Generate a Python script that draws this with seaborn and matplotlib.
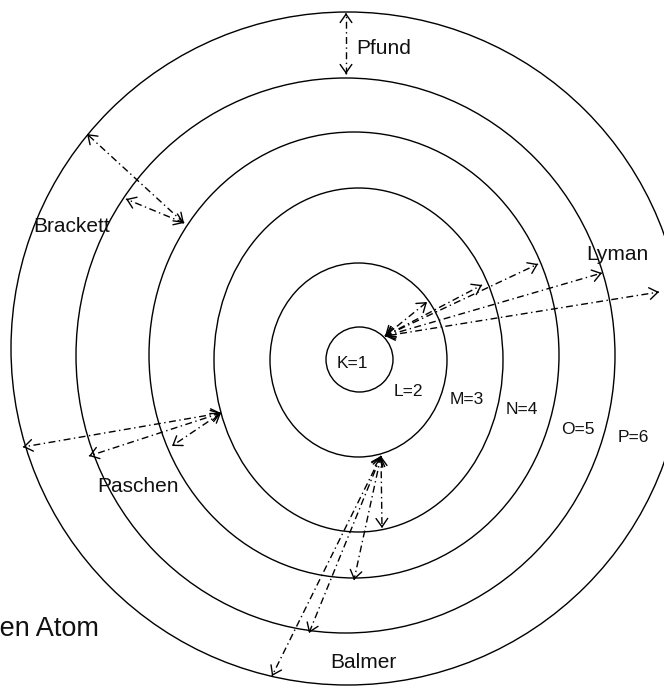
#!/usr/bin/env python3
"""Bohr model of the hydrogen atom: orbits and spectral series."""
import matplotlib
matplotlib.use("Agg")
import matplotlib.pyplot as plt
import numpy as np
import pandas as pd
import seaborn as sns
from matplotlib.patches import Ellipse

sns.set_theme(style="white")
plt.rcParams["font.family"] = ["Liberation Sans", "DejaVu Sans"]

# orbits (pixel geometry of the drawing, y grows downward)
ORBITS = ["K=1", "L=2", "M=3", "N=4", "O=5", "P=6"]
ORBIT_CX = [359.5, 358.5, 358.5, 354, 345.5, 347.5]
ORBIT_CY = [359.5, 360, 360, 355, 355.5, 348.5]
ORBIT_W = [67, 177, 289, 410, 539, 673]
ORBIT_H = [65, 194, 344, 446, 555, 673]
ORBIT_LABEL_X = [352, 408, 467, 522, 578, 633]
ORBIT_LABEL_Y = [363, 391, 400, 409, 429, 437]

# transitions: one row per arrow
TRANS_SERIES = ["Lyman"] * 5 + ["Balmer"] * 4 + ["Paschen"] * 3 + ["Brackett"] * 2 + ["Pfund"]
TRANS_FROM_X = [385] * 5 + [381] * 4 + [221] * 3 + [184] * 2 + [346]
TRANS_FROM_Y = [336] * 5 + [456] * 4 + [413] * 3 + [223] * 2 + [74]
TRANS_TO_X = [427, 482, 538, 602, 659, 382, 354, 309, 272, 172, 89, 23, 126, 87, 346]
TRANS_TO_Y = [302, 285, 264, 273, 292, 528, 580, 633, 676, 446, 456, 447, 199, 134, 13]

SERIES = ["Lyman", "Balmer", "Paschen", "Brackett", "Pfund"]
SERIES_LABEL_X = [617, 363, 138, 72, 384]
SERIES_LABEL_Y = [255, 663, 487, 226, 49]

TITLE = "Hydrogen Atom"


def main():
    fig = plt.figure(figsize=(6.64, 6.87), dpi=100)
    ax = fig.add_axes([0, 0, 1, 1])
    ax.set_xlim(0, 664)
    ax.set_ylim(687, 0)
    ax.axis("off")

    for cx, cy, w, h in zip(ORBIT_CX, ORBIT_CY, ORBIT_W, ORBIT_H):
        ax.add_patch(Ellipse((cx, cy), w, h, fill=False, ec="black", lw=1.0))

    for name, x, y in zip(ORBITS, ORBIT_LABEL_X, ORBIT_LABEL_Y):
        ax.text(x, y, name, ha="center", va="center", fontsize=12.5, color="#111111")

    trans = pd.DataFrame({
        "series": TRANS_SERIES,
        "x0": TRANS_FROM_X,
        "y0": TRANS_FROM_Y,
        "x1": TRANS_TO_X,
        "y1": TRANS_TO_Y,
    })
    trans["id"] = np.arange(len(trans))

    segs = pd.concat([
        trans[["id", "series", "x0", "y0"]].rename(columns={"x0": "x", "y0": "y"}),
        trans[["id", "series", "x1", "y1"]].rename(columns={"x1": "x", "y1": "y"}),
    ]).sort_values("id", kind="stable")

    sns.lineplot(
        data=segs, x="x", y="y", units="id", estimator=None, sort=False,
        color="black", lw=1.0, linestyle=(0, (5, 2.5, 1, 2.5)), legend=False, ax=ax,
    )

    head = dict(arrowstyle="->,head_length=0.6,head_width=0.42", color="black",
                lw=1.0, shrinkA=0, shrinkB=0, mutation_scale=10)
    for row in trans.itertuples():
        d = np.array([row.x1 - row.x0, row.y1 - row.y0], dtype=float)
        u = d / np.hypot(*d)
        for tip, sign in (((row.x1, row.y1), 1), ((row.x0, row.y0), -1)):
            back = (tip[0] - sign * u[0] * 2, tip[1] - sign * u[1] * 2)
            ax.annotate("", xy=tip, xytext=back, arrowprops=head)

    for name, x, y in zip(SERIES, SERIES_LABEL_X, SERIES_LABEL_Y):
        ax.text(x, y, name, ha="center", va="center", fontsize=15, color="#111111")

    # title sits partly outside the crop on the left, as in the source
    ax.text(99, 629, TITLE, ha="right", va="center", fontsize=19.5, color="#111111")

    fig.savefig("out.png", dpi=100)
    plt.close(fig)


if __name__ == "__main__":
    main()
